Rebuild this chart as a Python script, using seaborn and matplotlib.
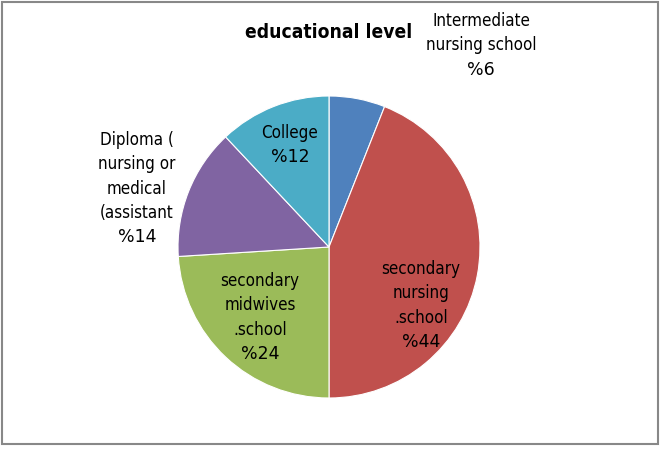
import matplotlib
matplotlib.use("Agg")
import matplotlib.pyplot as plt
import seaborn as sns
from matplotlib.patches import Rectangle

# data
categories = ["Intermediate\nnursing school", "secondary\nnursing\n.school",
              "secondary\nmidwives\n.school", "Diploma (\nnursing or\nmedical\n(assistant",
              "College"]
shares = [6, 44, 24, 14, 12]
pct_labels = ["%6", "%44", "%24", "%14", "%12"]
colors = ["#4F81BD", "#C0504D", "#9BBB59", "#8064A2", "#4BACC6"]

sns.set_style("white")
plt.rcParams["font.family"] = ["DejaVu Sans"]

W, H = 662, 454
fig = plt.figure(figsize=(W / 100, H / 100), dpi=100)
ax = fig.add_axes([0, 0, 1, 1])

def py(y):
    return H - y

ax.pie(shares, colors=colors, startangle=90, counterclock=False,
       center=(329, py(247)), radius=151, frame=True,
       wedgeprops=dict(edgecolor="white", linewidth=0.8))
ax.set_xlim(0, W)
ax.set_ylim(0, H)
ax.axis("off")

# label anchor: (x center, y of first line)
anchors = [(481, 21), (421, 269), (260, 281), (137, 140), (290, 133)]
gap = 24.3
for name, pct, (x, y0) in zip(categories, pct_labels, anchors):
    lines = name.split("\n")
    for i, ln in enumerate(lines):
        ax.text(x, py(y0 + i * gap), ln, ha="center", va="center",
                fontsize=12.2, fontstretch="condensed", color="black")
    ax.text(x, py(y0 + len(lines) * gap), pct, ha="center", va="center",
            fontsize=12.5, color="black")

ax.text(329, py(32), "educational level", ha="center", va="center",
        fontsize=13.8, fontweight="bold", fontstretch="condensed", color="black")

fig.patches.append(Rectangle((1.5 / W, 10 / H), 656 / W, 442 / H,
                             transform=fig.transFigure, fill=False,
                             edgecolor="#888888", linewidth=1.5))

fig.savefig("out.png", dpi=100)
